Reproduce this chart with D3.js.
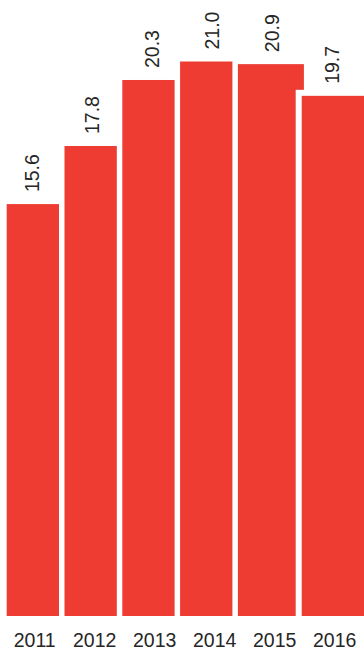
<!DOCTYPE html>
<html>
<head>
<meta charset="utf-8">
<script src="https://cdn.jsdelivr.net/npm/d3@7"></script>
<style>
    body { margin: 0; background: #fff; }
    svg { display: block; }
    text { font-family: "Liberation Sans", Arial, sans-serif; fill: #262626; }
</style>
</head>
<body>
<svg id="chart" width="364" height="649"></svg>
<script>
const years = ["2011", "2012", "2013", "2014", "2015", "2016"];
const values = [15.6, 17.8, 20.3, 21.0, 20.9, 19.7];
const valueLabels = ["15.6", "17.8", "20.3", "21.0", "20.9", "19.7"];

const W = 364, H = 649;
const baseY = 616;

const svg = d3.select("#chart");

//  bars sit on a slightly tighter band than the labels (mid-transition look)
const xBar = d3.scaleBand().domain(years).range([3.95, 350.75]).paddingInner(0.095).paddingOuter(0.0475);
const xText = d3.scaleBand().domain(years).range([4.7, 364.7]);
const y = d3.scaleLinear().domain([0, 21]).range([baseY, 61.5]);

const data = years.map((yr, i) => ({ year: yr, value: values[i], label: valueLabels[i] }));

//  last two bars are stretched, the last one has a thick white halo
function barX(d) {
    if (d.year === "2016") return xBar(d.year) + 6;
    return xBar(d.year);
}
function barW(d) {
    if (d.year === "2015") return xBar.bandwidth() + 13.7;
    if (d.year === "2016") return 80;
    return xBar.bandwidth();
}

svg.selectAll("rect.bar")
    .data(data)
    .join("rect")
    .attr("class", "bar")
    .attr("x", d => barX(d))
    .attr("y", d => y(d.value))
    .attr("width", d => barW(d))
    .attr("height", d => baseY - y(d.value))
    .attr("fill", "#ee3c33")
    .attr("stroke", "#fff")
    .attr("stroke-opacity", d => d.year === "2016" ? 1 : 0.35)
    .attr("stroke-width", d => d.year === "2016" ? 12 : 1)
    .style("paint-order", "stroke");

//  value labels, rotated
svg.selectAll("text.val")
    .data(data)
    .join("text")
    .attr("class", "val")
    .attr("transform", d => `translate(${xText(d.year) + xText.bandwidth() / 2 + 4},${y(d.value) - 12}) rotate(-90)`)
    .attr("font-size", 19.5)
    .attr("text-anchor", "start")
    .text(d => d.label);

//  x axis labels
svg.selectAll("text.tick")
    .data(years)
    .join("text")
    .attr("class", "tick")
    .attr("x", d => xText(d) + xText.bandwidth() / 2)
    .attr("y", 647)
    .attr("text-anchor", "middle")
    .attr("font-size", 19.5)
    .text(d => d);
</script>
</body>
</html>
